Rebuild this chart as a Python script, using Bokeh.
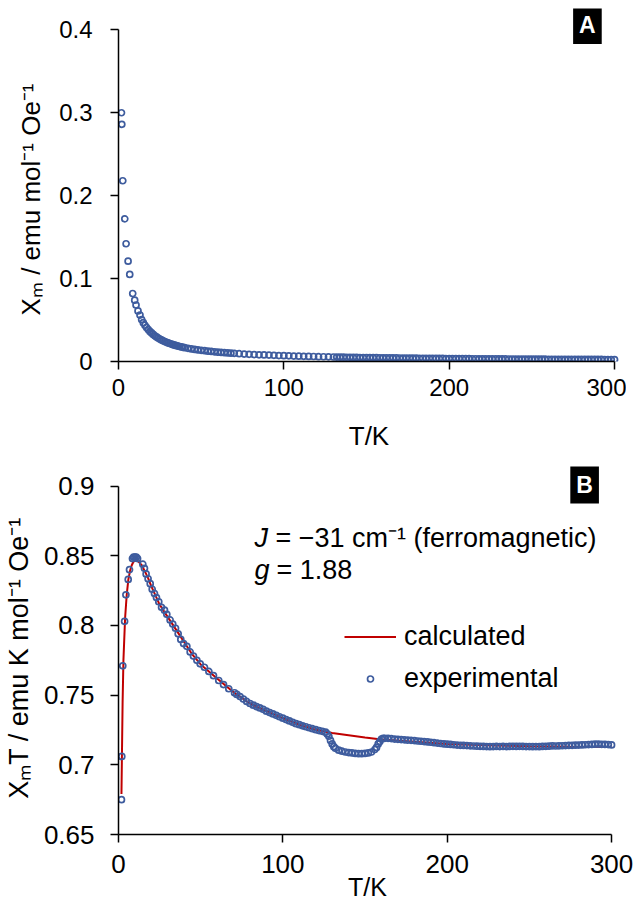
from bokeh.plotting import figure
from bokeh.layouts import column
from bokeh.models import Label, Legend, LegendItem, FixedTicker, Range1d
from bokeh.embed import file_html
from bokeh.resources import INLINE

# ---------------- data ----------------
x_ticks = [0, 100, 200, 300]
x_tick_labels = ["0", "100", "200", "300"]
A_y_ticks = [0, 0.1, 0.2, 0.3, 0.4]
A_y_tick_labels = ["0", "0.1", "0.2", "0.3", "0.4"]
B_y_ticks = [0.65, 0.7, 0.75, 0.8, 0.85, 0.9]
B_y_tick_labels = ["0.65", "0.7", "0.75", "0.8", "0.85", "0.9"]

# Panel A: chi_m vs T
TA = [1.8, 2.0, 2.6, 3.8, 4.6, 5.8, 6.8, 8.6, 9.8, 10.6, 11.8, 13.0,
      14, 15, 16, 17, 18, 19, 20, 21, 22, 23, 24, 25, 26, 27, 28, 29, 30,
      31, 32, 33, 34, 35, 36, 37, 38, 39, 40, 42, 44, 46, 48, 50, 52, 54,
      56, 58, 60, 62, 64, 66, 68, 70, 73, 76, 79, 82, 85, 88, 91, 94, 97,
      100, 103, 106, 109, 112, 115, 118, 121, 124, 127, 130,
      132, 134, 136, 138, 140, 142, 144, 146, 148, 150, 152, 154, 156, 158,
      160, 162, 164, 166, 168, 170, 172, 174, 176, 178, 180, 182, 184, 186,
      188, 190, 192, 194, 196, 198, 200, 202, 204, 206, 208, 210, 212, 214,
      216, 218, 220, 222, 224, 226, 228, 230, 232, 234, 236, 238, 240, 242,
      244, 246, 248, 250, 252, 254, 256, 258, 260, 262, 264, 266, 268, 270,
      272, 274, 276, 278, 280, 282, 284, 286, 288, 290, 292, 294, 296, 298, 300]
chiA = [0.300, 0.286, 0.218, 0.172, 0.142, 0.121, 0.105, 0.082, 0.074, 0.068, 0.061, 0.056,
        0.0505, 0.0468, 0.0437, 0.0410, 0.0385, 0.0363, 0.0344, 0.0326, 0.0310, 0.0296,
        0.0283, 0.0271, 0.0260, 0.0250, 0.0241, 0.0232, 0.0224,
        0.0217, 0.0210, 0.0203, 0.0197, 0.0191, 0.0186, 0.0181, 0.0176, 0.0171, 0.0167,
        0.0159, 0.0152, 0.0146, 0.0140, 0.0135, 0.0130, 0.0125,
        0.0121, 0.0117, 0.0113, 0.0110, 0.0106, 0.0103, 0.0100, 0.0098,
        0.0094, 0.0090, 0.0087, 0.0084, 0.0081, 0.0079, 0.0077, 0.0074, 0.0072,
        0.0070, 0.0068, 0.0066, 0.0064, 0.0063, 0.0061, 0.0060, 0.0058, 0.0057, 0.0056, 0.0054,
        0.00532, 0.00524, 0.00517, 0.00510, 0.00503, 0.00496, 0.00490, 0.00483, 0.00477,
        0.00471, 0.00466, 0.00461, 0.00457, 0.00453, 0.00449, 0.00444, 0.00438, 0.00433,
        0.00428, 0.00423, 0.00418, 0.00413, 0.00408, 0.00403, 0.00399, 0.00394, 0.00390,
        0.00385, 0.00381, 0.00377, 0.00373, 0.00369, 0.00365, 0.00361, 0.00357, 0.00354,
        0.00350, 0.00347, 0.00344, 0.00340, 0.00337, 0.00334, 0.00331, 0.00327, 0.00324,
        0.00321, 0.00318, 0.00316, 0.00313, 0.00310, 0.00308, 0.00305, 0.00302, 0.00300,
        0.00297, 0.00295, 0.00292, 0.00290, 0.00288, 0.00285, 0.00283, 0.00281, 0.00279,
        0.00276, 0.00274, 0.00272, 0.00270, 0.00268, 0.00266, 0.00264, 0.00262, 0.00261,
        0.00259, 0.00257, 0.00255, 0.00253, 0.00252, 0.00250, 0.00248, 0.00246, 0.00245,
        0.00243, 0.00242, 0.00240, 0.00238]

# Panel B: chi_m*T vs T (experimental)
TB = [1.8, 2.0, 2.6, 3.7, 4.5, 5.9, 6.7, 8.5, 9.2, 10.0, 10.8, 11.6,
      14.8, 15.8, 16.8, 18.0, 19.3, 20.5, 21.9, 23.1, 24.5, 26.2, 28.0, 29.4,
      31.4, 33.0, 34.7, 36.3, 37.9, 39.6, 41.6, 43.6, 45.6, 47.7, 49.7, 52.3,
      55.0, 57.8, 61.0, 63.9, 67.1, 70.6,
      72, 74, 76, 78, 80, 82, 84, 86, 88, 90, 92, 94, 96, 98, 100, 102, 104,
      106, 108, 110, 112, 114, 116, 118, 120, 122, 124, 126,
      127, 128, 129, 130, 131, 132, 134, 136, 138, 140, 142, 144, 146, 148,
      150, 152, 154, 156, 157, 158, 159, 160, 161, 162,
      164, 166, 168, 170, 172, 174, 176, 178, 180, 182, 184, 186, 188, 190,
      192, 194, 196, 198, 200, 202, 204, 206, 208, 210, 212, 214, 216, 218,
      220, 222, 224, 226, 228, 230, 232, 234, 236, 238, 240, 242, 244, 246,
      248, 250, 252, 254, 256, 258, 260, 262, 264, 266, 268, 270, 272, 274,
      276, 278, 280, 282, 284, 286, 288, 290, 292, 294, 296, 298, 300]
chiTB = [0.675, 0.706, 0.771, 0.803, 0.822, 0.833, 0.840, 0.848, 0.849, 0.849, 0.849, 0.848,
         0.844, 0.841, 0.837, 0.8335, 0.830, 0.826, 0.823, 0.820, 0.817, 0.813, 0.811, 0.808,
         0.804, 0.801, 0.798, 0.794, 0.790, 0.787, 0.785, 0.781, 0.778, 0.775, 0.7725, 0.770,
         0.767, 0.764, 0.7605, 0.7576, 0.7546, 0.7517,
         0.7505, 0.7490, 0.7472, 0.7455, 0.7440, 0.7428, 0.7418, 0.7408, 0.7398, 0.7385,
         0.7375, 0.7365, 0.7355, 0.7345, 0.7335, 0.7325, 0.7315,
         0.7305, 0.7295, 0.7288, 0.7280, 0.7273, 0.7266, 0.7259, 0.7252, 0.7246, 0.7240, 0.7234,
         0.7222, 0.7205, 0.7175, 0.7150, 0.7130, 0.7118, 0.7105, 0.7098, 0.7092, 0.7088,
         0.7085, 0.7082, 0.7080, 0.7080,
         0.7082, 0.7085, 0.7092, 0.7110, 0.7125, 0.7150, 0.7168, 0.7185, 0.7190, 0.7190,
         0.7190, 0.7188, 0.7185, 0.7183, 0.7181, 0.7179, 0.7177, 0.7176, 0.7174, 0.7171,
         0.7169, 0.7167, 0.7164, 0.7162, 0.7159, 0.7156, 0.7153, 0.7150, 0.7148, 0.7146,
         0.7144, 0.7142, 0.7140, 0.7139, 0.7138, 0.7136, 0.7135, 0.7134, 0.7133, 0.7132,
         0.7131, 0.7130, 0.7131, 0.7132, 0.7131, 0.7132, 0.7131, 0.7132, 0.7133, 0.7132,
         0.7133, 0.7132, 0.7131, 0.7131, 0.7130, 0.7131, 0.7130, 0.7132, 0.7133, 0.7134,
         0.7136, 0.7135, 0.7136, 0.7137, 0.7138, 0.7139, 0.7140, 0.7141, 0.7142, 0.7143,
         0.7144, 0.7145, 0.7146, 0.7148, 0.7149, 0.7147, 0.7146, 0.7145, 0.7143]

# Panel B: calculated fit (J = -31 cm-1, g = 1.88)
TC = [1.8, 2.5, 3, 4, 5, 6, 7, 8, 9, 10, 11, 12, 14, 16, 18, 20, 25, 30, 35, 40,
      45, 50, 55, 60, 70, 80, 90, 100, 110, 120, 130, 140, 150, 160, 180, 200,
      225, 250, 275, 300]
chiTC = [0.679, 0.745, 0.775, 0.805, 0.822, 0.833, 0.839, 0.843, 0.8455, 0.8465,
         0.8465, 0.846, 0.8435, 0.839, 0.834, 0.828, 0.815, 0.806, 0.797, 0.788,
         0.779, 0.772, 0.767, 0.762, 0.752, 0.744, 0.7385, 0.7335, 0.7288, 0.7252,
         0.7228, 0.7212, 0.7196, 0.7182, 0.7165, 0.7150, 0.7140, 0.7133, 0.7130, 0.7128]

series_labels = ["calculated", "experimental"]

# ---------------- style ----------------
FONT = "Liberation Sans"
BLUE = "#3E5C9E"
RED = "#C00000"
NBSP = "\u00a0"


def style_axis(ax, ticks, labels, tick_fs, label_fs, tick_standoff, label_standoff):
    ax.ticker = FixedTicker(ticks=ticks)
    ax.major_label_overrides = {t: l for t, l in zip(ticks, labels)}
    ax.axis_line_color = "black"
    ax.axis_line_width = 1.5
    ax.major_tick_line_color = "black"
    ax.major_tick_line_width = 1.5
    ax.major_tick_out = 8
    ax.major_tick_in = 0
    ax.minor_tick_line_color = None
    ax.major_label_text_font = FONT
    ax.major_label_text_font_size = tick_fs
    ax.major_label_text_color = "black"
    ax.major_label_standoff = tick_standoff
    ax.axis_label_text_font = FONT
    ax.axis_label_text_font_size = label_fs
    ax.axis_label_text_font_style = "normal"
    ax.axis_label_text_color = "black"
    ax.axis_label_standoff = label_standoff
    ax.bounds = (ticks[0], ticks[-1])


# ---------------- Panel A ----------------
pA = figure(frame_width=501, frame_height=353,
            x_range=Range1d(0, 303), y_range=Range1d(0, 0.4257),
            min_border_left=108, min_border_right=17, min_border_top=8,
            min_border_bottom=98,
            x_axis_label="T/K",
            y_axis_label="Χₘ / emu mol⁻¹ Oe⁻¹" + NBSP * 4,
            output_backend="svg", toolbar_location=None)
pA.grid.visible = False
pA.outline_line_color = None
style_axis(pA.xaxis[0], x_ticks, x_tick_labels, "24px", "26px", 9, 22)
style_axis(pA.yaxis[0], A_y_ticks, A_y_tick_labels, "24px", "26px", 18, 10)

pA.scatter(TA, chiA, marker="circle", size=6, line_color=BLUE, line_width=1.7,
           fill_color=None)
pA.add_layout(Label(x=283.6, y=0.4058, text="A", text_color="white",
                    text_font=FONT, text_font_style="bold", text_font_size="23px",
                    text_align="center", text_baseline="middle",
                    background_fill_color="black", padding=6))

# ---------------- Panel B ----------------
pB = figure(frame_width=498, frame_height=368,
            x_range=Range1d(0, 303), y_range=Range1d(0.65, 0.91406),
            min_border_left=111, min_border_right=17, min_border_top=7,
            min_border_bottom=67,
            x_axis_label="T/K",
            y_axis_label="ΧₘT / emu K mol⁻¹ Oe⁻¹" + NBSP * 2,
            output_backend="svg", toolbar_location=None)
pB.grid.visible = False
pB.outline_line_color = None
style_axis(pB.xaxis[0], x_ticks, x_tick_labels, "26px", "25px", 12, -3)
style_axis(pB.yaxis[0], B_y_ticks, B_y_tick_labels, "26px", "27px", 16, 7)

line_r = pB.line(TC, chiTC, line_color=RED, line_width=2)
scat_r = pB.scatter(TB, chiTB, marker="circle", size=6, line_color=BLUE,
                    line_width=1.7, fill_color=None)

legend = Legend(items=[LegendItem(label=series_labels[0], renderers=[line_r]),
                       LegendItem(label=series_labels[1], renderers=[scat_r])],
                location=(226, 140), padding=0, margin=0, spacing=11,
                glyph_width=52, glyph_height=15, label_height=30,
                label_standoff=8, label_text_font=FONT,
                label_text_font_size="27px", label_text_color="black",
                border_line_color=None, background_fill_alpha=0)
pB.add_layout(legend)

pB.add_layout(Label(x=283.6, y=0.9011, text="B", text_color="white",
                    text_font=FONT, text_font_style="bold", text_font_size="23px",
                    text_align="center", text_baseline="middle",
                    background_fill_color="black", padding=6))

ann_y1 = 0.8631
ann_y2 = 0.8397
ann_x = 82.7
pB.add_layout(Label(x=ann_x, y=ann_y1, text="J", text_font=FONT,
                    text_font_style="italic", text_font_size="27px",
                    text_color="black", text_baseline="alphabetic"))
pB.add_layout(Label(x=ann_x, y=ann_y1, x_offset=21,
                    text="= −31 cm⁻¹ (ferromagnetic)", text_font=FONT,
                    text_font_size="27px", text_color="black",
                    text_baseline="alphabetic"))
pB.add_layout(Label(x=ann_x, y=ann_y2, text="g", text_font=FONT,
                    text_font_style="italic", text_font_size="27px",
                    text_color="black", text_baseline="alphabetic"))
pB.add_layout(Label(x=ann_x, y=ann_y2, x_offset=22, text="= 1.88",
                    text_font=FONT, text_font_size="27px", text_color="black",
                    text_baseline="alphabetic"))

layout = column(pA, pB, spacing=0)
open("out.html", "w").write(file_html(layout, INLINE, "chart"))
